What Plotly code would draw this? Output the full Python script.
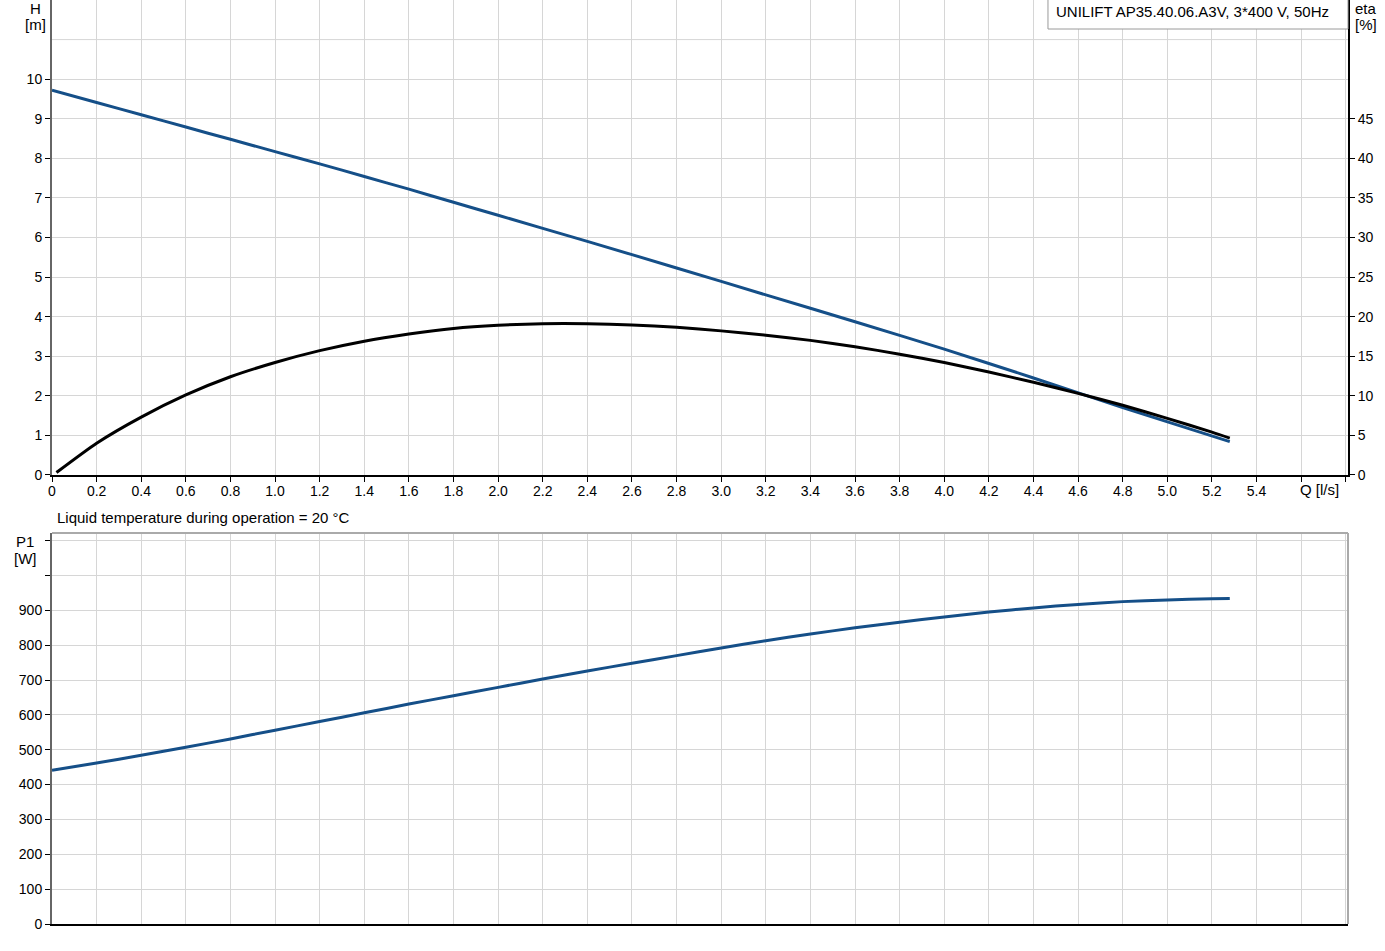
import plotly.graph_objects as go

# Q [l/s] sample points
q_h = [0.0, 0.2, 0.4, 0.6, 0.8, 1.0, 1.2, 1.4, 1.6, 1.8, 2.0, 2.4, 2.8, 3.2, 3.6, 4.0, 4.4, 4.8, 5.28]
head = [9.72, 9.41, 9.10, 8.79, 8.48, 8.17, 7.86, 7.54, 7.22, 6.89, 6.56, 5.90, 5.23, 4.55, 3.87, 3.18, 2.45, 1.70, 0.84]

q_eta = [0.02, 0.2, 0.4, 0.6, 0.8, 1.0, 1.2, 1.4, 1.6, 1.8, 2.0, 2.2, 2.4, 2.6, 2.8, 3.0, 3.2, 3.4, 3.6, 3.8, 4.0,
         4.2, 4.4, 4.6, 4.8, 5.0, 5.2, 5.28]
eta = [0.3, 4.0, 7.3, 10.1, 12.4, 14.2, 15.7, 16.9, 17.8, 18.5, 18.9, 19.1, 19.1, 18.95, 18.65, 18.2, 17.65, 17.0,
       16.2, 15.25, 14.2, 13.0, 11.7, 10.3, 8.8, 7.15, 5.4, 4.65]

q_p1 = [0.0, 0.2, 0.4, 0.6, 0.8, 1.0, 1.2, 1.4, 1.6, 1.8, 2.0, 2.2, 2.4, 2.6, 2.8, 3.0, 3.2, 3.4, 3.6, 3.8, 4.0,
        4.2, 4.4, 4.6, 4.8, 5.0, 5.2, 5.28]
p1 = [441, 462, 484, 507, 531, 556, 581, 606, 631, 655, 679, 703, 726, 748, 770, 792, 813, 832, 850, 866, 881,
      895, 907, 917, 925, 930, 933, 934]

x_ticks = [round(0.2 * i, 1) for i in range(30)]
x_labels = ["0"] + ["%.1f" % v for v in x_ticks[1:28]] + ["", ""]
h_ticks = list(range(0, 11))
eta_ticks = list(range(0, 50, 5))
p_ticks = list(range(0, 1200, 100))
p_labels = [str(v) for v in p_ticks[:10]] + ["", ""]

title_text = "UNILIFT AP35.40.06.A3V, 3*400 V, 50Hz"
temp_text = "Liquid temperature during operation = 20 °C"

BLUE = "#154f88"
GRID = "#d6d6d6"
FONT = dict(family="Arial, Liberation Sans, sans-serif", size=14, color="#000000")
TEXT_FONT = dict(FONT, size=15)
X_MAX = 5.81

fig = go.Figure()

fig.add_trace(go.Scatter(x=q_h, y=head, mode="lines",
                         line=dict(color=BLUE, width=3, shape="spline", smoothing=0.6),
                         xaxis="x", yaxis="y", showlegend=False))
fig.add_trace(go.Scatter(x=q_eta, y=eta, mode="lines",
                         line=dict(color="#000000", width=3, shape="spline", smoothing=0.6),
                         xaxis="x", yaxis="y2", showlegend=False))
fig.add_trace(go.Scatter(x=q_p1, y=p1, mode="lines",
                         line=dict(color=BLUE, width=3, shape="spline", smoothing=0.6),
                         xaxis="x2", yaxis="y3", showlegend=False))

axis_common = dict(showgrid=True, gridcolor=GRID, gridwidth=1, zeroline=False, ticks="outside",
                   ticklen=5, tickcolor="#000000", tickfont=FONT)

fig.update_layout(
    width=1385, height=951,
    margin=dict(l=52, r=37, t=0, b=27),
    paper_bgcolor="white", plot_bgcolor="white",
    font=FONT,
    xaxis=dict(axis_common, domain=[0, 1], range=[0, X_MAX], tickvals=x_ticks, ticktext=x_labels,
               anchor="y", showline=True, linecolor="#000000", linewidth=2, ticklabelstandoff=-3),
    yaxis=dict(axis_common, domain=[0.486, 1], range=[0, 12], tickvals=h_ticks, anchor="x",
               showline=True, linecolor="#666666", linewidth=2),
    yaxis2=dict(axis_common, overlaying="y", side="right", range=[0, 60], tickvals=eta_ticks,
                showgrid=False, anchor="x", showline=True, linecolor="#000000", linewidth=2),
    xaxis2=dict(axis_common, domain=[0, 1], range=[0, X_MAX], tickvals=x_ticks, showticklabels=False,
                ticks="", anchor="y3", showline=True, linecolor="#000000", linewidth=2),
    yaxis3=dict(axis_common, domain=[0, 0.4232], range=[0, 1122], tickvals=p_ticks, ticktext=p_labels,
                anchor="x2", showline=True, linecolor="#666666", linewidth=2),
)

# unlabeled gridline at H = 11
fig.add_shape(type="line", xref="x domain", yref="y", x0=0, x1=1, y0=11, y1=11,
              line=dict(color=GRID, width=1), layer="below")

# frame of the lower chart (top and right edges)
fig.add_shape(type="line", xref="x2 domain", yref="y3 domain", x0=0, x1=1, y0=1, y1=1,
              line=dict(color="#aaaaaa", width=2))
fig.add_shape(type="line", xref="x2 domain", yref="y3 domain", x0=1, x1=1, y0=0, y1=1,
              line=dict(color="#aaaaaa", width=2))

# title box in the upper right corner
fig.add_shape(type="rect", xref="paper", yref="paper", x0=0.7685, x1=1.0, y0=0.9686, y1=1.002,
              line=dict(color="#9a9a9a", width=1), fillcolor="white", layer="above")
fig.add_annotation(text=title_text, xref="paper", yref="paper", x=0.7735, y=0.9875, xanchor="left",
                   yanchor="middle", showarrow=False, font=TEXT_FONT)

# axis titles, one line each
labels = [
    ("H", -0.0131, 0.9913), ("[m]", -0.0131, 0.9740),
    ("eta", 1.0139, 0.9913), ("[%]", 1.0139, 0.9730),
    ("P1", -0.0208, 0.4145), ("[W]", -0.0208, 0.3961),
]
for txt, px, py in labels:
    fig.add_annotation(text=txt, xref="paper", yref="paper", x=px, y=py, xanchor="center",
                       yanchor="middle", showarrow=False, font=TEXT_FONT)

fig.add_annotation(text="Q [l/s]", xref="x", yref="paper", x=5.6, y=0.4697, xanchor="left",
                   yanchor="middle", showarrow=False, font=TEXT_FONT, xshift=-3)
fig.add_annotation(text=temp_text, xref="paper", yref="paper", x=0.0023, y=0.4394, xanchor="left",
                   yanchor="middle", showarrow=False, font=TEXT_FONT)

fig.write_html("out.html", config={"displayModeBar": False},
               post_script="document.body.style.margin='0';")
